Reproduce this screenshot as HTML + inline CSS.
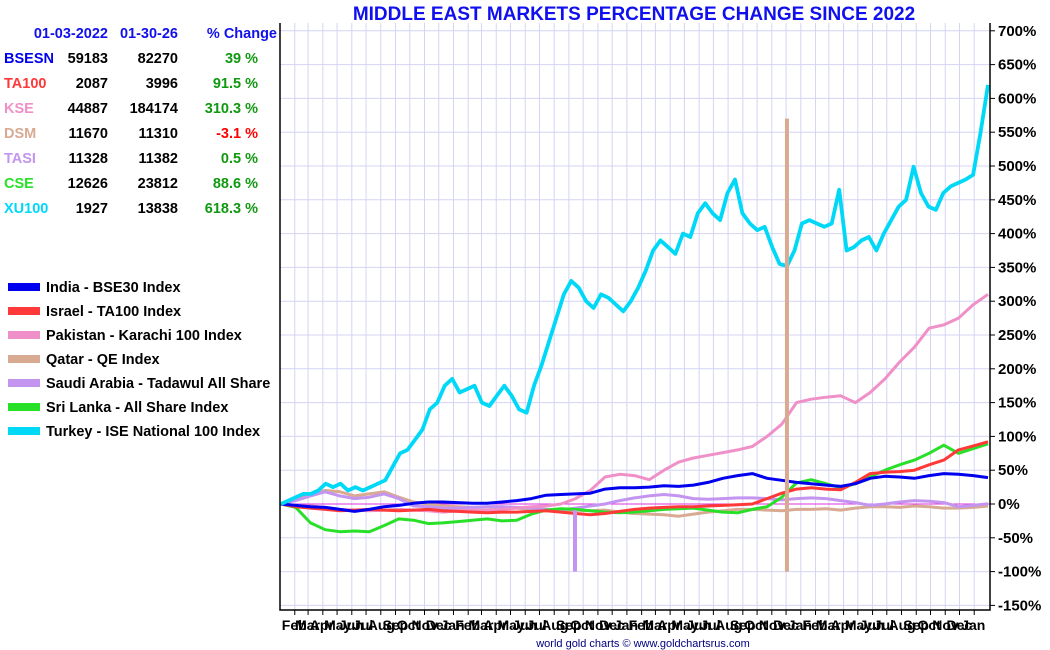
<!DOCTYPE html>
<html><head><meta charset="utf-8"><style>
body{margin:0;background:#fff;font-family:"Liberation Sans",Arial,sans-serif;}
svg{display:block}
</style></head><body>
<svg id="chart" width="1050" height="650" xmlns="http://www.w3.org/2000/svg" font-family="Liberation Sans, Arial, sans-serif">
<g id="grid"></g>
<g id="series"></g>
<g id="axes"></g>
<text x="634" y="20" text-anchor="middle" font-size="19" font-weight="bold" fill="#1010ee">MIDDLE EAST MARKETS PERCENTAGE CHANGE SINCE 2022</text>
<text x="643" y="647" text-anchor="middle" font-size="11" fill="#000080">world gold charts © www.goldchartsrus.com</text>
<g id="table" font-size="14.5" font-weight="bold"></g>
<g id="legend" font-size="14.5" font-weight="bold"></g>
</svg>
<script>
const yTicks=[700,650,600,550,500,450,400,350,300,250,200,150,100,50,0,-50,-100,-150];
const monthNames=["Feb","Mar","Apr","May","Jun","Jul","Aug","Sep","Oct","Nov","Dec","Jan"];
const seriesNames=["India - BSE30 Index","Israel - TA100 Index","Pakistan - Karachi 100 Index","Qatar - QE Index","Saudi Arabia - Tadawul All Share","Sri Lanka - All Share Index","Turkey - ISE National 100 Index"];
const seriesColors=["#0000ee","#ff3838","#f090c8","#d8aa92","#c495f0","#28e028","#00d8f8"];
const india=[0,-2,-4,-5,-8,-11,-8,-4,-2,1,3,3,2,1,1,3,5,8,13,14,15,16,22,24,24,25,27,26,28,32,38,42,45,38,35,32,30,28,26,30,38,41,40,38,42,45,44,42,39];
const israel=[0,-4,-6,-8,-10,-9,-8,-9,-10,-9,-8,-10,-11,-12,-13,-12,-12,-11,-10,-12,-14,-16,-14,-11,-8,-6,-5,-4,-4,-3,-2,-1,0,8,16,22,24,22,21,32,45,47,48,50,58,65,80,86,92];
const pakistan=[0,-2,-3,-5,-8,-9,-10,-9,-8,-9,-10,-12,-10,-9,-9,-8,-6,-4,-3,0,8,20,40,44,42,36,50,62,68,72,76,80,85,100,118,150,155,158,160,150,165,185,210,232,260,265,275,295,310];
const qatar=[0,8,15,20,18,12,15,18,10,3,0,-3,-4,-5,-4,-4,-6,-8,-9,-9,-9,-10,-9,-12,-14,-15,-16,-18,-15,-12,-10,-8,-8,-9,-10,-8,-8,-7,-9,-6,-4,-4,-5,-3,-4,-6,-6,-5,-3];
const saudi=[0,5,12,18,12,8,10,15,8,-3,-4,-6,-6,-5,-4,-4,-5,-6,-8,-9,-6,-3,0,5,9,12,14,12,8,7,8,9,9,8,6,8,9,8,5,2,-2,0,3,5,4,2,-4,-2,0.5];
const sriLanka=[0,-5,-28,-38,-41,-40,-41,-32,-22,-24,-29,-28,-26,-24,-22,-25,-24,-15,-9,-7,-8,-10,-12,-13,-12,-10,-8,-7,-6,-9,-12,-13,-8,-4,10,31,36,30,24,30,40,50,58,65,75,87,75,82,89];
const turkey=[0,5,10,15,15,20,30,25,30,20,25,20,25,30,35,55,75,80,95,110,140,150,175,185,165,170,175,150,145,160,175,160,140,135,175,205,240,275,310,330,320,300,290,310,305,295,285,300,320,345,375,390,380,370,400,395,430,445,430,420,460,480,430,415,405,410,380,355,352,375,415,420,415,410,415,465,375,380,390,395,375,400,420,440,450,499,460,440,435,460,470,475,480,487,550,620];
const spikeIdx=[19.96,34.35];
const spikeLow=[-100,-100];
const spikeHigh=[-9,570];
const spikeSeries=[4,3];
const tableHeaders=["01-03-2022","01-30-26","% Change"];
const tableCodes=["BSESN","TA100","KSE","DSM","TASI","CSE","XU100"];
const tableStart=["59183","2087","44887","11670","11328","12626","1927"];
const tableEnd=["82270","3996","184174","11310","11382","23812","13838"];
const tableChange=["39 %","91.5 %","310.3 %","-3.1 %","0.5 %","88.6 %","618.3 %"];

const NS="http://www.w3.org/2000/svg";
const X0=281,X1=988,PL=280,PR=990,PT=23,PB=610;
const y=v=>504-v*0.676;
const xi=(i,n)=>X0+i*(X1-X0)/(n-1);
const t0=Date.UTC(2022,0,3),t1=Date.UTC(2026,0,30);
const xd=t=>X0+(t-t0)/(t1-t0)*(X1-X0);
function mk(tag,attrs,parent){const e=document.createElementNS(NS,tag);for(const k in attrs)e.setAttribute(k,attrs[k]);parent.appendChild(e);return e;}
const grid=document.getElementById('grid'),axes=document.getElementById('axes'),ser=document.getElementById('series');
let mi=0;
for(let yr=2022;yr<=2026;yr++)for(let m=0;m<12;m++){
  if(yr==2022&&m==0)continue;
  const t=Date.UTC(yr,m,1); if(t>t1)break;
  const x=xd(t);
  const gl=mk('line',{x1:x,x2:x,y1:PT,y2:PB,stroke:'#d4d4f4','stroke-width':1},grid);
  
  const tk=mk('line',{x1:x,x2:x,y1:PB,y2:PB+5,stroke:'#000','stroke-width':1},axes);
  
  const lb=mk('text',{x:x-13,y:630,'font-size':14,'font-weight':'bold',fill:'#000'},axes);
  lb.textContent=monthNames[mi%12];mi++;
  
}
yTicks.forEach(v=>{
  const yy=y(v);
  const gl=mk('line',{x1:PL,x2:PR,y1:yy,y2:yy,stroke:'#d4d4f4','stroke-width':1},grid);
  
  const tk=mk('line',{x1:PR,x2:PR+5,y1:yy,y2:yy,stroke:'#000','stroke-width':1},axes);
  
  const lb=mk('text',{x:998,y:yy+5,'font-size':15,'font-weight':'bold',fill:'#000'},axes);
  lb.textContent=v+'%';
  
});
const fr=mk('path',{d:`M${PL},${PT}V${PB}H${PR}V${PT}`,fill:'none',stroke:'#000','stroke-width':1.5},axes);

const zl=mk('line',{x1:PL,x2:PR,y1:y(0),y2:y(0),stroke:'#dd33dd','stroke-width':1},grid);

const all=[india,israel,pakistan,qatar,saudi,sriLanka,turkey];
const drawOrder=[3,4,2,5,1,0,6];
const slugs=['india','israel','pakistan','qatar','saudi','sri-lanka','turkey'];
drawOrder.forEach(s=>{
  const d=all[s];
  const p=d.map((v,i)=>(i?'L':'M')+xi(i,d.length).toFixed(1)+','+y(v).toFixed(1)).join('');
  const pa=mk('path',{d:p,fill:'none',stroke:seriesColors[s],'stroke-width':s==6?3.8:3,'stroke-linejoin':'round'},ser);
  
});
spikeIdx.forEach((ix,k)=>{
  const x=xi(ix,49);
  const sp=mk('line',{x1:x,x2:x,y1:y(spikeLow[k]),y2:y(spikeHigh[k]),stroke:seriesColors[spikeSeries[k]],'stroke-width':4},ser);
  
});
const tb=document.getElementById('table');
const hx=[108,178,277];
tableHeaders.forEach((h,i)=>{const t=mk('text',{x:hx[i],y:38,'text-anchor':'end',fill:'#1010ee'},tb);t.textContent=h;
  });
tableCodes.forEach((c,r)=>{
  const yy=63+r*25;
  const a=mk('text',{x:4,y:yy,fill:seriesColors[r]},tb);a.textContent=c;
  
  const b=mk('text',{x:108,y:yy,'text-anchor':'end',fill:'#000'},tb);b.textContent=tableStart[r];
  
  const e=mk('text',{x:178,y:yy,'text-anchor':'end',fill:'#000'},tb);e.textContent=tableEnd[r];
  
  const g=mk('text',{x:258,y:yy,'text-anchor':'end',fill:tableChange[r][0]=='-'?'#ff0000':'#119911'},tb);g.textContent=tableChange[r];
  
});
const lg=document.getElementById('legend');
seriesNames.forEach((n,i)=>{
  const yy=287+i*24;
  const r=mk('rect',{x:8,y:yy-4,width:32,height:8,fill:seriesColors[i]},lg);
  
  const t=mk('text',{x:46,y:yy+5,fill:'#000'},lg);t.textContent=n;
  
});
</script>
</body></html>
